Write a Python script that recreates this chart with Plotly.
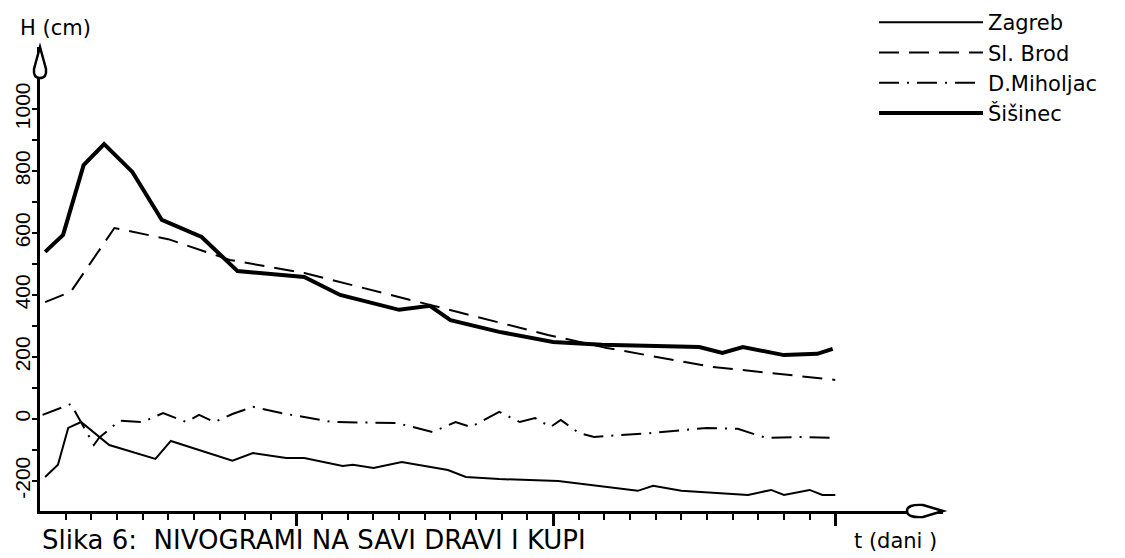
import plotly.graph_objects as go

# ---- data (t in days, H in cm) ----
zagreb_t = [0.2, 0.7, 1.1, 1.6, 2.7, 4.5, 5.1, 7.5, 8.3, 9.6, 10.3, 11.8, 12.2, 13.0, 14.1,
            15.9, 16.6, 17.9, 20.2, 23.3, 23.9, 25.0, 27.6, 28.5, 29.0, 30.0, 30.5, 31.0]
zagreb_h = [-187, -148, -29, -10, -84, -129, -71, -135, -110, -126, -126, -152, -148, -158, -139,
            -165, -187, -194, -200, -232, -216, -232, -245, -229, -245, -229, -245, -245]

brod_t = [0.2, 1.2, 2.9, 5.0, 7.4, 10.3, 15.2, 17.9, 19.8, 22.1, 26.2, 31.0]
brod_h = [377, 410, 616, 580, 513, 471, 368, 310, 271, 229, 168, 126]

miholjac_t = [0.1, 1.2, 2.1, 2.3, 3.1, 4.0, 4.8, 5.7, 6.2, 6.8, 7.5, 8.3, 9.4, 11.4, 13.9,
              15.3, 16.2, 16.8, 17.9, 18.7, 19.3, 19.9, 20.3, 21.0, 21.6, 23.9, 26.0, 27.2,
              28.3, 29.6, 30.8]
miholjac_h = [13, 48, -84, -61, -6, -10, 19, -10, 13, -10, 16, 39, 19, -10, -13,
              -42, -10, -26, 23, -10, 3, -26, -3, -45, -58, -45, -29, -32,
              -61, -58, -61]

sisinec_t = [0.2, 0.9, 1.7, 2.5, 3.6, 4.75, 6.3, 7.7, 10.3, 11.7, 14.0, 15.2, 16.0, 17.9,
             20.0, 21.9, 25.7, 26.6, 27.4, 29.0, 30.3, 30.9]
sisinec_h = [539, 594, 819, 887, 797, 642, 587, 477, 458, 400, 352, 365, 319, 281,
             248, 239, 232, 213, 232, 206, 210, 226]

y_tick_vals = [-200, 0, 200, 400, 600, 800, 1000]
y_tick_text = ["-200", "0", "200", "400", "600", "800", "1000"]
y_minor_vals = [-100, 100, 300, 500, 700, 900]
x_major_vals = [10, 20, 31]
x_minor_vals = [d for d in range(1, 31) if d not in (10, 20)]

# ---- layout geometry (page pixels; the page body has an 8px margin) ----
OFF = 8
PAGE_W, PAGE_H = 1125, 558
W, H = PAGE_W - OFF, PAGE_H - OFF
PLOT_L, PLOT_T, PLOT_R, PLOT_B = 40, 47, 943, 511      # plot area in page pixels
ML, MT = PLOT_L - OFF, PLOT_T - OFF
MR, MB = W - (PLOT_R - OFF), H - (PLOT_B - OFF)
PW, PH = PLOT_R - PLOT_L, PLOT_B - PLOT_T
XR = [0, 35.2]
YR = [-297, 1200]


def px_to_paper(px, py):
    """Page pixel position -> paper coordinates."""
    return (px - PLOT_L) / PW, (PLOT_B - py) / PH


def path_from_px(cmds):
    out = []
    for c in cmds:
        if isinstance(c, str):
            out.append(c)
        else:
            x, y = px_to_paper(*c)
            out.append(f"{x:.5f},{y:.5f}")
    return " ".join(out)


fig = go.Figure()
fig.add_trace(go.Scatter(x=zagreb_t, y=zagreb_h, mode="lines", name="Zagreb",
                         line=dict(color="black", width=2)))
fig.add_trace(go.Scatter(x=brod_t, y=brod_h, mode="lines", name="Sl. Brod",
                         line=dict(color="black", width=2, dash="20px,10px")))
fig.add_trace(go.Scatter(x=miholjac_t, y=miholjac_h, mode="lines", name="D.Miholjac",
                         line=dict(color="black", width=2, dash="20px,8px,2px,8px")))
fig.add_trace(go.Scatter(x=sisinec_t, y=sisinec_h, mode="lines", name="Šišinec",
                         line=dict(color="black", width=4)))

# arrow heads on the axes (decoration, in page pixels)
yx, yy = PLOT_L, PLOT_T
xx, xy = PLOT_R, PLOT_B
y_arrow = path_from_px(["M", (yx, yy), "L", (yx + 6, yy + 22), "Q", (yx + 7, yy + 31),
                        (yx, yy + 31), "Q", (yx - 7, yy + 31), (yx - 6, yy + 22), "Z"])
x_arrow = path_from_px(["M", (xx, xy), "L", (xx - 20, xy - 6), "Q", (xx - 36, xy - 7),
                        (xx - 36, xy), "Q", (xx - 36, xy + 7), (xx - 20, xy + 6), "Z"])

hx, hy = px_to_paper(18, 28)
tx, ty = px_to_paper(852, 541)
sx, sy = px_to_paper(40, 540)
lx, ly = px_to_paper(874, 2)

fig.update_layout(
    shapes=[
        dict(type="path", xref="paper", yref="paper", path=y_arrow, fillcolor="white",
             line=dict(color="black", width=2.5), layer="above"),
        dict(type="path", xref="paper", yref="paper", path=x_arrow, fillcolor="white",
             line=dict(color="black", width=2.5), layer="above"),
    ],
    annotations=[
        dict(text="H (cm)", xref="paper", yref="paper", x=hx, y=hy,
             xanchor="left", yanchor="middle", showarrow=False,
             font=dict(family="DejaVu Sans", size=21, color="black")),
        dict(text="t (dani )", xref="paper", yref="paper", x=tx, y=ty,
             xanchor="left", yanchor="middle", showarrow=False,
             font=dict(family="DejaVu Sans", size=21, color="black")),
        dict(text="Slika 6:  NIVOGRAMI NA SAVI DRAVI I KUPI", xref="paper", yref="paper",
             x=sx, y=sy, xanchor="left", yanchor="middle", showarrow=False,
             font=dict(family="DejaVu Sans", size=26, color="black")),
    ],
)

fig.update_layout(
    width=W, height=H,
    margin=dict(l=ML, r=MR, t=MT, b=MB, pad=0, autoexpand=False),
    paper_bgcolor="white", plot_bgcolor="white",
    font=dict(family="DejaVu Sans", color="black"),
    showlegend=True,
    legend=dict(xref="paper", yref="paper", x=lx, y=ly,
                xanchor="left", yanchor="top", itemwidth=104,
                bgcolor="rgba(0,0,0,0)", font=dict(family="DejaVu Sans", size=21, color="black"),
                tracegroupgap=0),
    xaxis=dict(range=XR, showgrid=False, zeroline=False, showline=True, automargin=False,
               linecolor="black", linewidth=3, showticklabels=False,
               tickmode="array", tickvals=x_major_vals, ticks="outside",
               ticklen=12, tickwidth=2.5, tickcolor="black",
               minor=dict(tickmode="array", tickvals=x_minor_vals, ticks="outside",
                          ticklen=6, tickwidth=2, tickcolor="black")),
    yaxis=dict(range=YR, showgrid=False, zeroline=False, showline=True, automargin=False,
               linecolor="black", linewidth=3,
               tickmode="array", tickvals=y_tick_vals, ticktext=y_tick_text,
               ticks="outside", ticklen=5, tickwidth=2, tickcolor="black",
               tickangle=-90, ticklabelstandoff=-6,
               tickfont=dict(family="Liberation Sans", size=21, color="black"),
               minor=dict(tickmode="array", tickvals=y_minor_vals, ticks="outside",
                          ticklen=5, tickwidth=2, tickcolor="black")),
)

fig.write_html("out.html")
